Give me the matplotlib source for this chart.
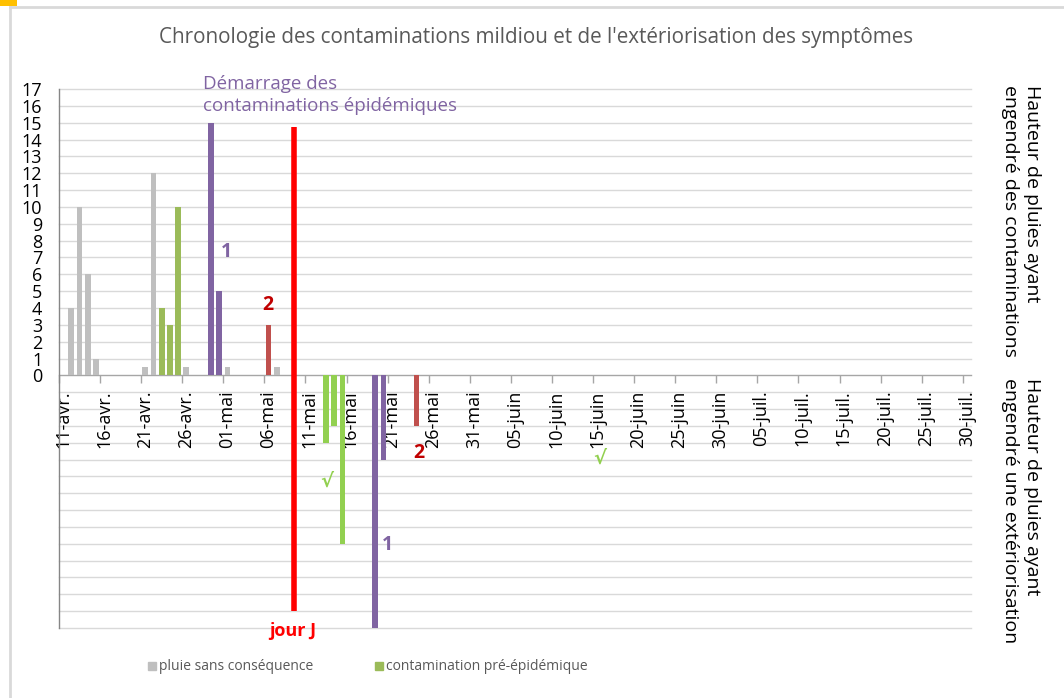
import matplotlib
matplotlib.use('Agg')
import matplotlib.pyplot as plt
import numpy as np
import pandas as pd
from matplotlib.patches import Rectangle
from matplotlib.lines import Line2D

plt.rcParams['font.family'] = ['Open Sans', 'DejaVu Sans']

# ---------------- data ----------------
start_date = '2021-04-11'
end_date = '2021-07-30'

title = "Chronologie des contaminations mildiou et de l'extériorisation des symptômes"

tick_labels = ['11-avr.', '16-avr.', '21-avr.', '26-avr.', '01-mai', '06-mai', '11-mai',
               '16-mai', '21-mai', '26-mai', '31-mai', '05-juin', '10-juin', '15-juin',
               '20-juin', '25-juin', '30-juin', '05-juil.', '10-juil.', '15-juil.',
               '20-juil.', '25-juil.', '30-juil.']
y_ticks = list(range(0, 18))

# pluie sans conséquence
rain_dates = ['2021-04-12', '2021-04-13', '2021-04-14', '2021-04-15', '2021-04-21',
              '2021-04-22', '2021-04-26', '2021-05-01', '2021-05-07']
rain_vals = [4, 10, 6, 1, 0.5, 12, 0.5, 0.5, 0.5]

# contamination pré-épidémique
pre_dates = ['2021-04-23', '2021-04-24', '2021-04-25']
pre_vals = [4, 3, 10]

# contaminations épidémiques 1 et 2
epi1_dates = ['2021-04-29', '2021-04-30']
epi1_vals = [15, 5]
epi2_dates = ['2021-05-06']
epi2_vals = [3]

# extériorisations
ext_pre_dates = ['2021-05-13', '2021-05-14', '2021-05-15']
ext_pre_vals = [-4, -3, -10]
ext_epi1_dates = ['2021-05-19', '2021-05-20']
ext_epi1_vals = [-15, -5]
ext_epi2_dates = ['2021-05-24']
ext_epi2_vals = [-3]

# jour J
jour_j_date = '2021-05-09'
jour_j_offset = 0.1
jour_j_top = 14.75
jour_j_bottom = -14.0

legend_labels = ['pluie sans conséquence', 'contamination pré-épidémique']

# ---------------- helpers ----------------
t0 = pd.Timestamp(start_date)
n_days = (pd.Timestamp(end_date) - t0).days


def idx(dates):
    return np.array([(pd.Timestamp(d) - t0).days for d in dates], dtype=float)


GRAY = '#BFBFBF'
GREEN_PRE = '#9BBB59'
GREEN_EXT = '#92D050'
PURPLE = '#8064A2'
DARKRED = '#C0504D'
RED = '#FF0000'

fig = plt.figure(figsize=(10.64, 6.98), dpi=100)
ax = fig.add_axes([59 / 1064, 1 - 628 / 698, (971 - 59) / 1064, (628 - 89) / 698])

W = 0.7
ax.bar(idx(rain_dates), rain_vals, width=W, color=GRAY, zorder=3)
ax.bar(idx(pre_dates), pre_vals, width=W, color=GREEN_PRE, zorder=3)
ax.bar(idx(epi1_dates), epi1_vals, width=W, color=PURPLE, zorder=3)
ax.bar(idx(epi2_dates), epi2_vals, width=W, color=DARKRED, zorder=3)
ax.bar(idx(ext_pre_dates), ext_pre_vals, width=W, color=GREEN_EXT, zorder=3)
ax.bar(idx(ext_epi1_dates), ext_epi1_vals, width=W, color=PURPLE, zorder=3)
ax.bar(idx(ext_epi2_dates), ext_epi2_vals, width=W, color=DARKRED, zorder=3)

jx = idx([jour_j_date])[0] + jour_j_offset
ax.plot([jx, jx], [jour_j_bottom, jour_j_top], color=RED, lw=4, zorder=4,
        solid_capstyle='butt')

ax.set_xlim(-0.5, n_days + 0.5)
ax.set_ylim(-15, 17)

# grid
for yv in range(-15, 18):
    if yv == 0:
        continue
    ax.axhline(yv, color='#D9D9D9', lw=1, zorder=1, clip_on=False)

for s in ['top', 'right']:
    ax.spines[s].set_visible(False)
ax.spines['left'].set_color('#868686')
ax.spines['left'].set_linewidth(1)
ax.spines['bottom'].set_position(('data', 0))
ax.spines['bottom'].set_color('#A6A6A6')
ax.spines['bottom'].set_linewidth(1)
ax.spines['bottom'].set_zorder(2)

ax.set_yticks(y_ticks)
ax.set_yticklabels([str(v) for v in y_ticks])
ax.tick_params(axis='y', length=0, pad=12, labelsize=13, labelcolor='#000000')

major = np.arange(0, n_days + 1, 5)
ax.set_xticks(major)
ax.set_xticklabels(tick_labels, rotation=90, va='top', ha='center')
ax.set_xticks(major - 0.5, minor=True)
ax.tick_params(axis='x', which='major', length=0, pad=11, labelsize=13,
               labelcolor='#000000')
ax.tick_params(axis='x', which='minor', length=6, width=1, color='#A6A6A6',
               direction='out')

# annotations
ax.text(17.0, 17.85, 'Démarrage des\ncontaminations épidémiques', color=PURPLE,
        fontsize=13.5, ha='left', va='top', linespacing=1.3, clip_on=False)
ax.text(19.85, 7.3, '1', color=PURPLE, fontsize=14, fontweight='bold',
        ha='center', va='center')
ax.text(24.95, 4.2, '2', color='#C00000', fontsize=14, fontweight='bold',
        ha='center', va='center')
ax.text(43.3, -4.6, '2', color='#C00000', fontsize=14, fontweight='bold',
        ha='center', va='center')
ax.text(39.5, -10.1, '1', color=PURPLE, fontsize=14, fontweight='bold',
        ha='center', va='center')
ax.text(32.1, -6.3, '√', color=GREEN_EXT, fontsize=14, fontweight='bold',
        ha='center', va='center', family=['DejaVu Sans'])
ax.text(65.3, -4.9, '√', color=GREEN_EXT, fontsize=14, fontweight='bold',
        ha='center', va='center', family=['DejaVu Sans'])
ax.text(28.0, -15.15, 'jour J', color=RED, fontsize=13, fontweight='bold',
        ha='center', va='center', clip_on=False)

# title
fig.text(536 / 1064, 1 - 38 / 698, title, color='#595959', fontsize=14.9,
         ha='center', va='center')

# right labels
fig.text(1021 / 1064, 1 - 85 / 698, 'Hauteur de pluies ayant\nengendré des contaminations',
         rotation=-90, ha='center', va='top', multialignment='left', fontsize=14,
         color='#000000', linespacing=1.35)
fig.text(1021 / 1064, 1 - 378 / 698, 'Hauteur de pluies ayant\nengendré une extériorisation',
         rotation=-90, ha='center', va='top', multialignment='left', fontsize=14,
         color='#000000', linespacing=1.35)

# legend
handles = [Line2D([], [], marker='s', linestyle='none', markersize=6,
                  markerfacecolor=GRAY, markeredgecolor=GRAY),
           Line2D([], [], marker='s', linestyle='none', markersize=6,
                  markerfacecolor=GREEN_PRE, markeredgecolor=GREEN_PRE)]
fig.legend(handles, legend_labels, loc='center left',
           bbox_to_anchor=(146 / 1064, 1 - 667 / 698), ncol=2, frameon=False,
           fontsize=10, labelcolor='#595959', handletextpad=0.15,
           columnspacing=4.3, handlelength=0.8, borderaxespad=0, borderpad=0)

# outer frame
fig.add_artist(Line2D([10 / 1064, 10 / 1064], [0, 1 - 7 / 698], transform=fig.transFigure,
                      color='#D9D9D9', lw=2))
fig.add_artist(Line2D([10 / 1064, 1], [1 - 7 / 698, 1 - 7 / 698], transform=fig.transFigure,
                      color='#D9D9D9', lw=2))
fig.add_artist(Rectangle((0, 1 - 6 / 698), 17 / 1064, 6 / 698, transform=fig.transFigure,
                         color='#FFC000', lw=0))

fig.savefig('out.png', dpi=100, facecolor='white')
